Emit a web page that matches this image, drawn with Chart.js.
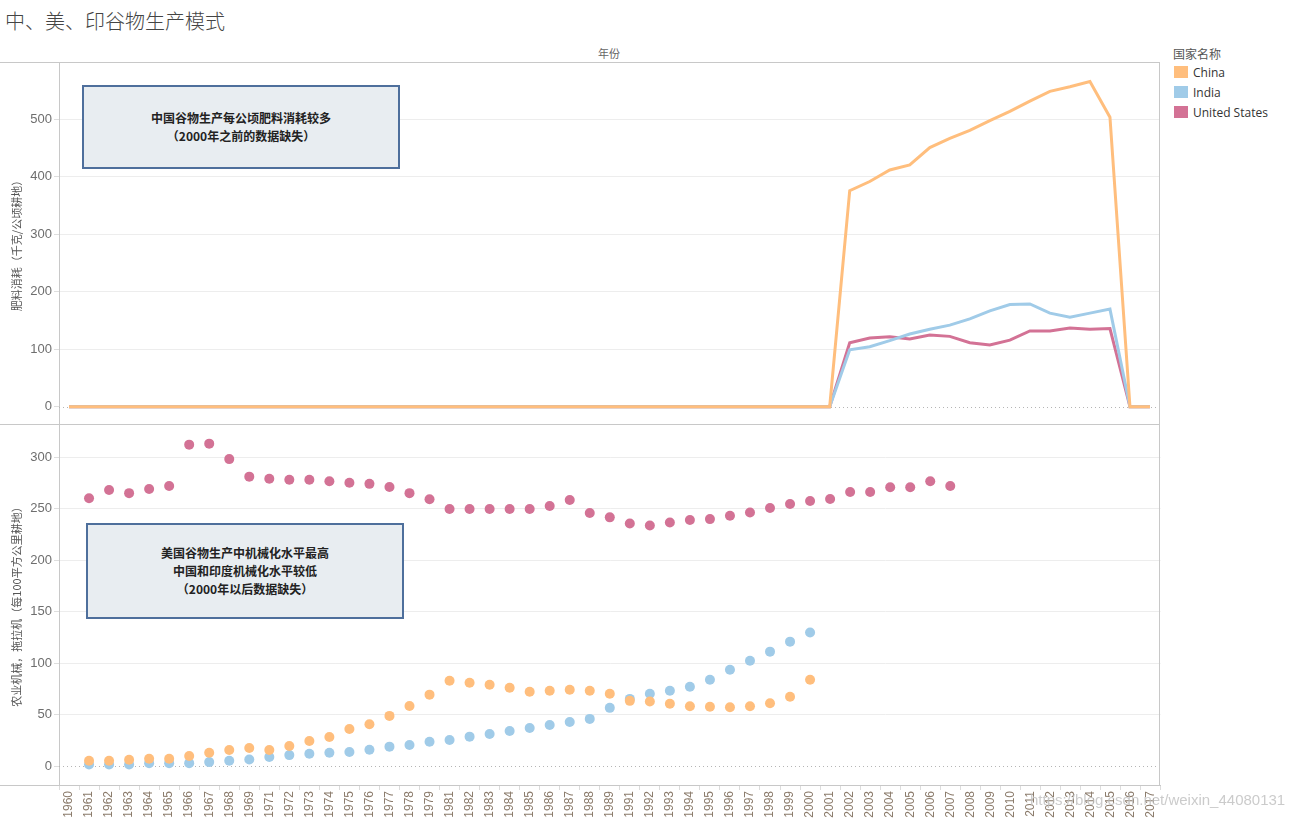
<!DOCTYPE html>
<html>
<head>
<meta charset="utf-8">
<script src="https://cdn.jsdelivr.net/npm/chart.js@4.4.0/dist/chart.umd.min.js"></script>
<style>
  body { margin: 0; background: #fff; width: 1311px; height: 819px; overflow: hidden; position: relative;
         font-family: "Noto Sans CJK SC", sans-serif; }
  .abs { position: absolute; }
  .hline { position: absolute; height: 1px; background: #c8c8c8; left: 0; width: 1160px; }
  .note { position: absolute; box-sizing: border-box; background: #e8edf1; border: 2px solid #4e6f9c;
          display: flex; flex-direction: column; justify-content: center; align-items: center;
          font-weight: bold; font-size: 12px; line-height: 18px; color: #222; }
  .leg { position: absolute; left: 1174px; font-family: "Open Sans", sans-serif; font-size: 12px; color: #333; }
  .leg span { display: inline-block; width: 14px; height: 12px; vertical-align: -1px; margin-right: 5px; }
</style>
</head>
<body>
<div class="abs" style="left:5px;top:6px;font-size:20px;font-weight:300;color:#444;">中、美、印谷物生产模式</div>
<div class="abs" style="left:589px;top:45px;width:40px;text-align:center;font-size:11px;color:#666;">年份</div>

<canvas id="top" class="abs" width="1160" height="362" style="left:0;top:62px;"></canvas>
<!-- the rotated year labels make Chart.js keep 6px free at the top and right, so the canvas is 6px bigger there -->
<canvas id="bottom" class="abs" width="1166" height="401" style="left:0;top:418px;"></canvas>

<div class="hline" style="top:62px;"></div>
<div class="hline" style="top:424px;"></div>
<div class="hline" style="top:785px;"></div>
<div class="abs" style="left:1159px;top:62px;width:1px;height:724px;background:#c8c8c8;"></div>

<div class="note" style="left:82px;top:85px;width:318px;height:84px;">
  <div>中国谷物生产每公顷肥料消耗较多</div>
  <div>（2000年之前的数据缺失）</div>
</div>
<div class="note" style="left:86px;top:523px;width:318px;height:96px;">
  <div>美国谷物生产中机械化水平最高</div>
  <div>中国和印度机械化水平较低</div>
  <div>（2000年以后数据缺失）</div>
</div>

<div class="abs" style="left:1173px;top:45px;font-size:12px;color:#555;">国家名称</div>
<div class="leg" style="top:64px;"><span style="background:#ffbe7d"></span>China</div>
<div class="leg" style="top:84px;"><span style="background:#a0cbe8"></span>India</div>
<div class="leg" style="top:104px;"><span style="background:#d37295"></span>United States</div>

<div class="abs" style="left:1030px;top:791px;font-family:'Liberation Sans',sans-serif;font-size:15px;color:rgba(190,190,190,0.8);">https://blog.csdn.net/weixin_44080131</div>

<script>
// years on the axis (1970, 1980, 1990 are absent in the source)
const years = [
  '1960','1961','1962','1963','1964','1965','1966','1967','1968','1969',
  '1971','1972','1973','1974','1975','1976','1977','1978','1979',
  '1981','1982','1983','1984','1985','1986','1987','1988','1989',
  '1991','1992','1993','1994','1995','1996','1997','1998','1999','2000','2001',
  '2002','2003','2004','2005','2006','2007','2008','2009','2010','2011','2012','2013','2014','2015',
  '2016','2017'
];

// fertilizer consumption (kg per hectare of arable land)
const fertChina = [
  0,0,0,0,0,0,0,0,0,0,
  0,0,0,0,0,0,0,0,0,
  0,0,0,0,0,0,0,0,0,
  0,0,0,0,0,0,0,0,0,0,0,
  376,392,412,421,451,467,481,498,514,532,549,557,566,504,
  0,0
];
const fertIndia = [
  0,0,0,0,0,0,0,0,0,0,
  0,0,0,0,0,0,0,0,0,
  0,0,0,0,0,0,0,0,0,
  0,0,0,0,0,0,0,0,0,0,0,
  99,104.5,115,126.6,135,142,153,167,178,179,163,156,163,170,
  0,0
];
const fertUS = [
  0,0,0,0,0,0,0,0,0,0,
  0,0,0,0,0,0,0,0,0,
  0,0,0,0,0,0,0,0,0,
  0,0,0,0,0,0,0,0,0,0,0,
  111.5,119.7,122,118,125,122.5,111.5,107.5,116,132,132,137,135,136,
  0,0
];

// tractors per 100 sq. km of arable land
const tractorChina = [
  null,5.5,5.5,6.5,7.5,7.5,10.1,13.3,15.9,17.8,
  15.9,19.8,24.7,28.5,36.3,40.9,49,58.6,69.6,
  83.1,81.1,79.2,76.3,72.4,73.4,74.3,73.4,70.4,
  63.6,63,60.7,58.4,57.8,57.4,58.4,61.3,67.5,84,null,
  null,null,null,null,null,null,null,null,null,null,null,null,null,null,
  null,null
];
const tractorIndia = [
  null,1.9,1.9,1.9,3.2,3.2,3.2,4.2,5.5,6.8,
  9.1,11,12.3,13.3,14,16.2,19.2,20.8,24,
  25.6,28.9,31.5,34.4,37.3,40.2,43.1,46.1,56.8,
  65.5,70.4,73.4,77.2,84,93.8,102.5,111.3,121,129.8,null,
  null,null,null,null,null,null,null,null,null,null,null,null,null,null,
  null,null
];
const tractorUS = [
  null,260,268,265,269,272,312,313,298,281,
  279,278,278,276.5,275,274,271,265,259,
  249.6,249.6,249.6,249.6,249.6,252.5,258.4,245.7,241.5,
  235.6,233.7,236.6,238.9,239.8,243.1,246.3,250.6,254.5,257.4,259.3,
  266.1,266.1,270.7,270.7,276.5,272,null,null,null,null,null,null,null,null,
  null,null
];

// y tick labels of the two panels
const fertTicks = [0, 100, 200, 300, 400, 500];
const tractorTicks = [0, 50, 100, 150, 200, 250, 300];

const colChina = '#ffbe7d', colIndia = '#a0cbe8', colUS = '#d37295';
const tickFont = { family: "'Liberation Sans', Arial, sans-serif", size: 13 };
const titleFont = { family: "'Noto Sans CJK SC', sans-serif", size: 11 };

const zeroLine = {
  id: 'zeroLine',
  beforeDatasetsDraw(chart) {
    const y = Math.round(chart.scales.y.getPixelForValue(0)) + 0.5;
    const { left, right } = chart.chartArea;
    const ctx = chart.ctx;
    ctx.save();
    ctx.strokeStyle = '#b5b5b5';
    ctx.lineWidth = 1;
    ctx.setLineDash([1, 3]);
    ctx.beginPath();
    ctx.moveTo(left, y);
    ctx.lineTo(right, y);
    ctx.stroke();
    ctx.restore();
  }
};

function yScale(min, max, tickVals, title) {
  return {
    min: min, max: max,
    afterBuildTicks: s => { s.ticks = tickVals.map(v => ({ value: v })); },
    ticks: { color: '#6e6e6e', font: tickFont, padding: 2 },
    grid: {
      color: c => (c.tick && c.tick.value === 0) ? 'rgba(0,0,0,0)' : '#ededed',
      tickColor: '#dedede', tickLength: 5
    },
    border: { display: true, color: '#c8c8c8' },
    title: { display: true, text: title, color: '#555', font: titleFont, padding: { top: 10, bottom: 0 } },
    afterFit: s => { s.width = 59; s.paddingTop = 0; s.paddingBottom = 0; }
  };
}

new Chart(document.getElementById('top'), {
  type: 'line',
  data: {
    labels: years,
    datasets: [
      { label: 'China', data: fertChina, borderColor: colChina },
      { label: 'India', data: fertIndia, borderColor: colIndia },
      { label: 'United States', data: fertUS, borderColor: colUS }
    ].map(d => Object.assign(d, { borderWidth: 3, pointRadius: 0, tension: 0, fill: false }))
  },
  options: {
    responsive: false,
    animation: false,
    devicePixelRatio: 1,
    layout: { padding: 0 },
    plugins: { legend: { display: false }, tooltip: { enabled: false } },
    events: [],
    scales: {
      x: { type: 'category', offset: true, display: false },
      y: yScale(-30, 600, fertTicks, '肥料消耗（千克/公顷耕地）')
    }
  },
  plugins: [zeroLine]
});

new Chart(document.getElementById('bottom'), {
  type: 'line',
  data: {
    labels: years,
    datasets: [
      { label: 'China', data: tractorChina, pointBackgroundColor: colChina },
      { label: 'India', data: tractorIndia, pointBackgroundColor: colIndia },
      { label: 'United States', data: tractorUS, pointBackgroundColor: colUS }
    ].map(d => Object.assign(d, { showLine: false, pointRadius: 5, pointBorderWidth: 0 }))
  },
  options: {
    responsive: false,
    animation: false,
    devicePixelRatio: 1,
    layout: { padding: 0 },
    plugins: { legend: { display: false }, tooltip: { enabled: false } },
    events: [],
    scales: {
      x: {
        type: 'category', offset: true,
        ticks: { autoSkip: false, minRotation: 90, maxRotation: 90, color: '#8b7b6b',
                 font: { family: "'Liberation Sans', Arial, sans-serif", size: 12 }, padding: 1 },
        grid: { offset: true, drawOnChartArea: false, drawTicks: true, tickLength: 5, color: '#dcdcdc' },
        border: { display: true, color: '#c8c8c8' },
        afterFit: s => { s.height = 34; }
      },
      y: yScale(-18, 333, tractorTicks, '农业机械，拖拉机（每100平方公里耕地）')
    }
  },
  plugins: [zeroLine]
});
</script>
</body>
</html>
